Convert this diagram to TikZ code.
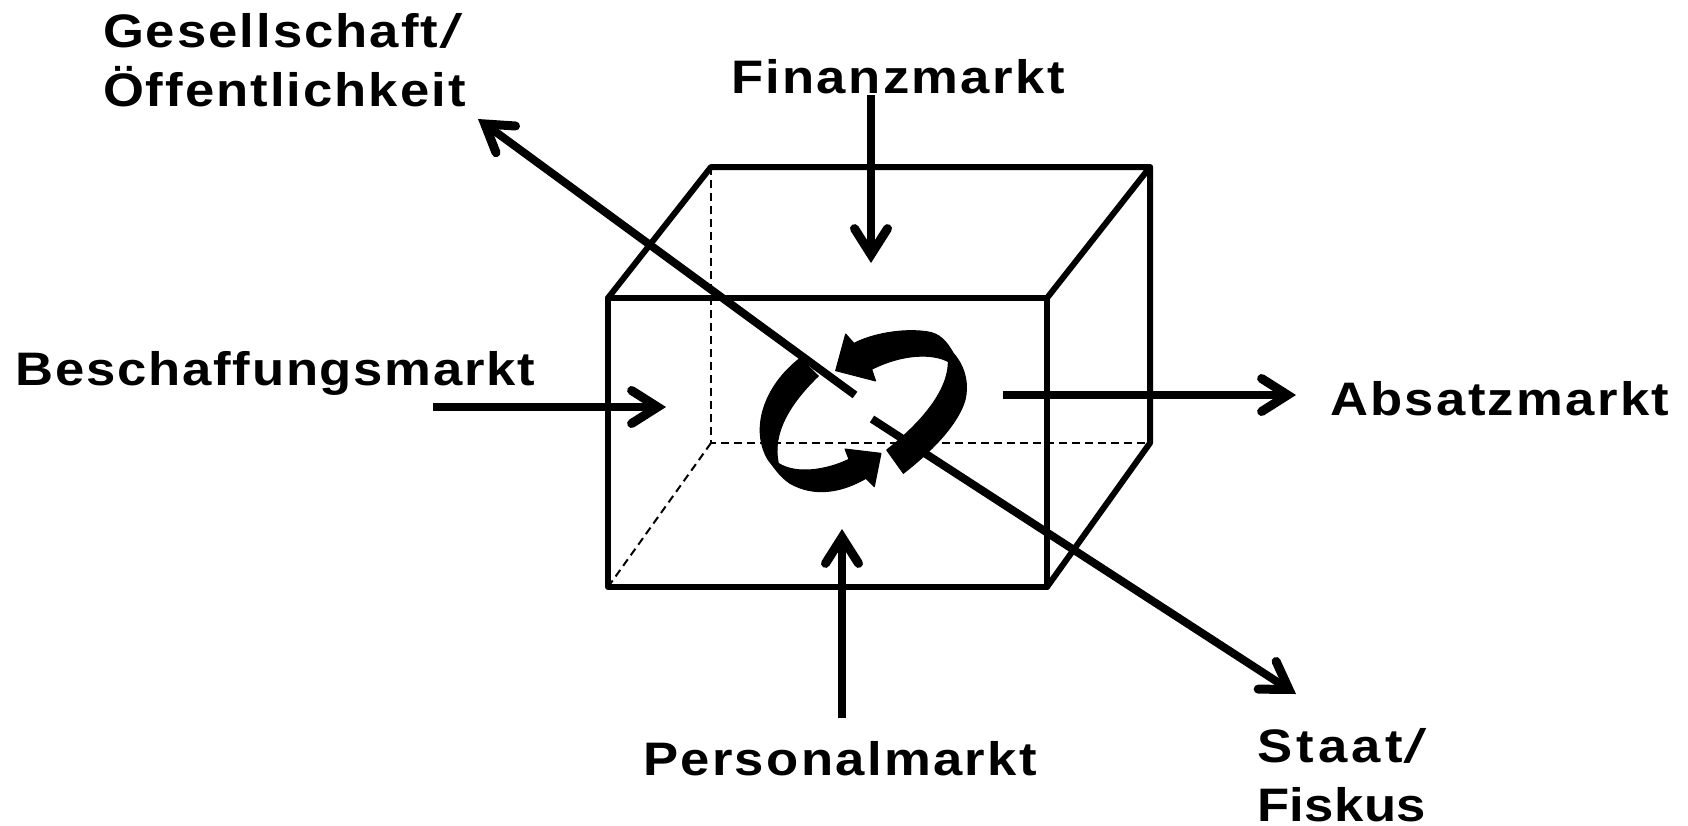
\documentclass[tikz,border=0pt]{standalone}
\usepackage{fontspec}
\setmainfont{Liberation Sans}
\usetikzlibrary{arrows.meta}
\newcommand{\wideslash}{\hspace{1pt}{\addfontfeature{FakeSlant=0.27}/}\hspace{9pt}}
\tikzset{
  lbl/.style={inner sep=0pt,outer sep=0pt,align=left,
    font=\fontsize{47}{59}\selectfont\bfseries\addfontfeature{FakeStretch=1.12,LetterSpace=#1}},
  lbl/.default=5,
  edge3d/.style={line width=6pt,line cap=round,line join=round},
  hid/.style={line width=2pt,dash pattern=on 8pt off 5pt},
  flow/.style={line width=8pt,-{Straight Barb[length=26pt,width=33pt,line width=9pt,line cap=round,line join=miter]}},
  cyc/.style={fill=black,draw=black,line width=1pt,line join=round}
}
\begin{document}
\begin{tikzpicture}[x=1pt,y=-1pt]
\useasboundingbox (0,0) rectangle (1688,825);
% box corners
\coordinate (fa) at (608,298); \coordinate (fb) at (1047,298);
\coordinate (fc) at (1047,587); \coordinate (fd) at (608,587);
\coordinate (ba) at (711,167); \coordinate (bb) at (1150,167);
\coordinate (bc) at (1150,443); \coordinate (bd) at (711,443);
\draw[hid] (ba) -- (bd) -- (bc);
\draw[hid] (bd) -- (fd);
\draw[edge3d] (fa) -- (fb) -- (fc) -- (fd) -- cycle;
\draw[edge3d] (fa) -- (ba) -- (bb) -- (fb);
\draw[edge3d] (bb) -- (bc) -- (fc);
% labels
\node[lbl,anchor=base west] (fin) at (731,93) {Finanzmarkt};
\node[lbl=3.7,anchor=base west] (bes) at (16,385) {Beschaffungsmarkt};
\node[lbl,anchor=base west] (abs) at (1330,415) {Absatzmarkt};
\node[lbl,anchor=base west] (per) at (643,775) {Personalmarkt};
\node[lbl=4.3,anchor=west] (ges) at (103,60) {Gesellschaft\wideslash\\Öffentlichkeit};
\node[lbl=1,anchor=west] (sta) at (1257,775) {{\addfontfeature{LetterSpace=9}Staat}\wideslash\\Fiskus};
% flows
\coordinate (f0) at (871,95);  \coordinate (f1) at (871,263);
\coordinate (b0) at (433,407); \coordinate (b1) at (666,407);
\coordinate (a0) at (1003,395);\coordinate (a1) at (1296,395);
\coordinate (p0) at (842,718); \coordinate (p1) at (842,529);
\coordinate (d0) at (855,395); \coordinate (d1) at (478,119);
\coordinate (e0) at (872,419); \coordinate (e1) at (1296,694);
\draw[flow] (f0) -- (f1);
\draw[flow] (b0) -- (b1);
\draw[flow] (a0) -- (a1);
\draw[flow] (p0) -- (p1);
\draw[flow] (d0) -- (d1);
\draw[flow] (e0) -- (e1);
% cycle arrows (drawn on a 3x grid)
\begin{scope}[shift={(700,300)},x=0.3333pt,y=-0.3333pt]
\path[cyc] (407,212) -- (437,102) -- (462,130)
  .. controls (520,100) and (610,85) .. (680,95)
  .. controls (720,100) and (740,125) .. (760,160)
  .. controls (800,205) and (805,260) .. (795,300)
  .. controls (775,370) and (700,450) .. (610,520)
  -- (560,450)
  .. controls (630,395) and (745,290) .. (745,185)
  .. controls (700,160) and (610,160) .. (515,208)
  -- (527,243) -- cycle;
\path[cyc] (300,175) -- (355,228)
  .. controls (270,310) and (215,400) .. (235,490)
  .. controls (290,525) and (380,510) .. (447,478)
  -- (435,447) -- (543,460) -- (523,560) -- (498,535)
  .. controls (420,580) and (340,590) .. (270,550)
  .. controls (240,530) and (225,505) .. (205,480)
  .. controls (150,390) and (190,260) .. (300,175) -- cycle;
\end{scope}
\end{tikzpicture}
\end{document}
